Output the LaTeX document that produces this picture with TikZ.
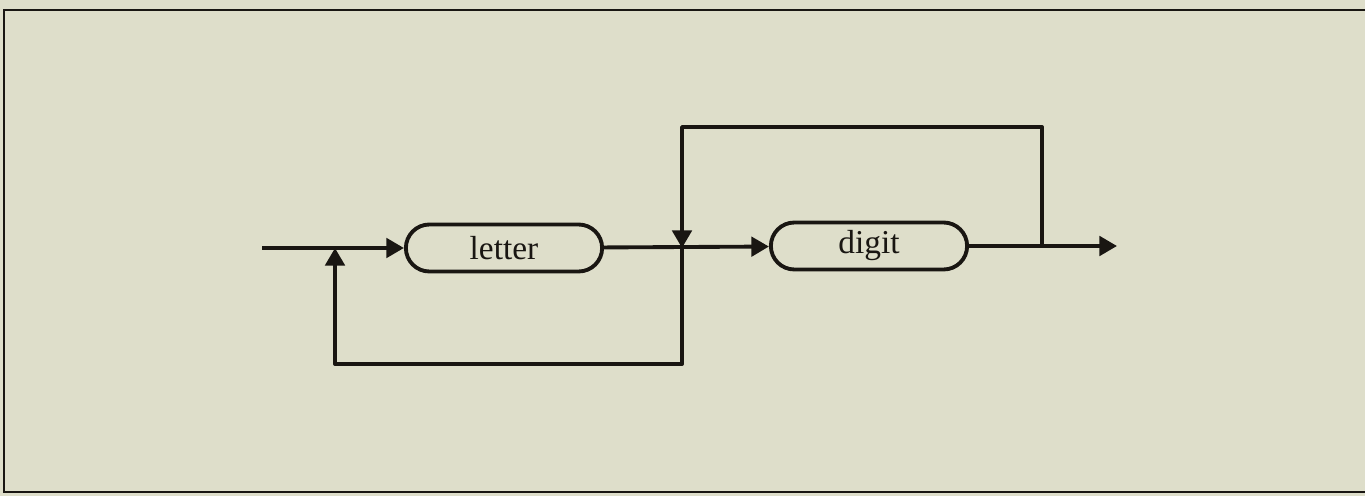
\documentclass[tikz,border=0pt]{standalone}
\usepackage{fontspec}
\setmainfont{Liberation Serif}
\usetikzlibrary{shapes,shapes.misc,arrows.meta,positioning,calc}
\definecolor{paper}{RGB}{222,222,202}
\definecolor{ink}{RGB}{25,22,18}

\begin{document}
\begin{tikzpicture}[
  x=0.02cm,y=-0.02cm,
  syntaxbox/.style={rounded rectangle,draw=ink,line width=2.2pt,minimum width=4.16cm,minimum height=0.94cm,font=\fontsize{19}{21}\selectfont,text=ink},
  flow/.style={draw=ink,line width=2.2pt,line join=round,-{Triangle[length=10pt,width=11pt]}},
]

% Paper and frame
\fill[paper] (0,0) rectangle (1365,496);
\useasboundingbox (0,0) rectangle (1365,496);
\draw[ink,line width=1.3pt] (1368,10) -- (4,10) -- (4,492) -- (1368,492);

% Boxes
\node[syntaxbox] (letter) at (504,248) {letter};
\node[syntaxbox] (digit) at (869,246) {digit};

% Points on the main line
\coordinate (start) at (262,248);
\coordinate (back_in) at (335,248);
\coordinate (join) at (682,248);
\coordinate (fork) at (1042,246);
\coordinate (stop) at (1117,246);
\coordinate (low) at (682,364);
\coordinate (high) at (1042,127);

% Connections
\draw[flow] (start) -- (letter);
\draw[flow] (letter) -- (digit);
\draw[flow] (digit) -- (stop);
\draw[flow] (join) -- (low) -| (back_in);
\draw[flow] (fork) -- (high) -| (join);

\end{tikzpicture}
\end{document}
